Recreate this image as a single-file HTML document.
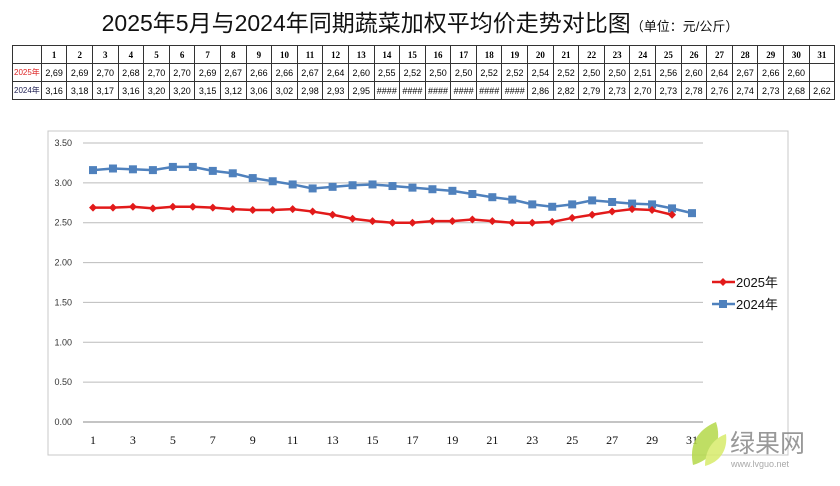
<!DOCTYPE html>
<html><head><meta charset="utf-8"><style>
body{margin:0;width:840px;height:486px;background:#fff;overflow:hidden;position:relative;font-family:"Liberation Sans","Noto Sans CJK SC",sans-serif}
#title{position:absolute;left:0;top:4px;width:840px;text-align:center;font-size:23px;color:#111}
#title span{font-size:13px}
table{position:absolute;left:12px;top:45px;border-collapse:collapse;font-size:9px;table-layout:fixed}
td{border:1px solid #333;height:17px;padding:0 1px;text-align:center;white-space:nowrap;overflow:hidden}
tr.h td{font-weight:bold;font-family:"Liberation Serif",serif}
</style></head><body>
<div id="title">2025年5月与2024年同期蔬菜加权平均价走势对比图<span>（单位：元/公斤）</span></div>
<table id="tbl"></table>
<svg id="chart" width="840" height="486" style="position:absolute;left:0;top:0"></svg>
<script>
const days=[];for(let i=1;i<=31;i++)days.push(i);
const s2025=[2.69,2.69,2.70,2.68,2.70,2.70,2.69,2.67,2.66,2.66,2.67,2.64,2.60,2.55,2.52,2.50,2.50,2.52,2.52,2.54,2.52,2.50,2.50,2.51,2.56,2.60,2.64,2.67,2.66,2.60];
const s2024=[3.16,3.18,3.17,3.16,3.20,3.20,3.15,3.12,3.06,3.02,2.98,2.93,2.95,2.97,2.98,2.96,2.94,2.92,2.90,2.86,2.82,2.79,2.73,2.70,2.73,2.78,2.76,2.74,2.73,2.68,2.62];
const t2025=["2,69","2,69","2,70","2,68","2,70","2,70","2,69","2,67","2,66","2,66","2,67","2,64","2,60","2,55","2,52","2,50","2,50","2,52","2,52","2,54","2,52","2,50","2,50","2,51","2,56","2,60","2,64","2,67","2,66","2,60",""];
const t2024=["3,16","3,18","3,17","3,16","3,20","3,20","3,15","3,12","3,06","3,02","2,98","2,93","2,95","####","####","####","####","####","####","2,86","2,82","2,79","2,73","2,70","2,73","2,78","2,76","2,74","2,73","2,68","2,62"];
const yTicks=[0,0.5,1,1.5,2,2.5,3,3.5];
const xTicks=[1,3,5,7,9,11,13,15,17,19,21,23,25,27,29,31];
const tb=document.getElementById('tbl');
let h='<colgroup><col style="width:27px">'+days.map(()=>'<col style="width:25.6px">').join('')+'</colgroup>';
h+='<tr class="h"><td></td>'+days.map(d=>'<td>'+d+'</td>').join('')+'</tr>';
h+='<tr><td style="color:#d22;font-size:8px">2025年</td>'+t2025.map(v=>'<td>'+v+'</td>').join('')+'</tr>';
h+='<tr><td style="color:#225;font-size:8px">2024年</td>'+t2024.map(v=>'<td>'+v+'</td>').join('')+'</tr>';
tb.innerHTML=h;
const svg=document.getElementById('chart');const NS='http://www.w3.org/2000/svg';
function mk(t,a,p){const e=document.createElementNS(NS,t);for(const k in a)e.setAttribute(k,a[k]);(p||svg).appendChild(e);return e;}
const X=d=>93+(d-1)*(692-93)/30, Y=v=>422-v*(422-143)/3.5;
const fr=mk('rect',{x:48,y:131,width:740,height:324,fill:'none',stroke:'#c8c8c8'});

yTicks.forEach(v=>{const l=mk('line',{x1:83,x2:703,y1:Y(v),y2:Y(v),stroke:v==0?'#888':'#bbb'});

const t=mk('text',{x:72,y:Y(v)+3,'font-size':9,'text-anchor':'end',fill:'#333'});t.textContent=v.toFixed(2);
});
xTicks.forEach(d=>{const t=mk('text',{x:X(d),y:444,'font-size':12,'text-anchor':'middle',fill:'#111','font-family':'Liberation Serif'});t.textContent=d;
});
function series(vals,col,name,marker){
const p=mk('polyline',{points:vals.map((v,i)=>X(i+1)+','+Y(v)).join(' '),fill:'none',stroke:col,'stroke-width':2.5});

vals.forEach((v,i)=>{let m;if(marker=='sq')m=mk('rect',{x:X(i+1)-4,y:Y(v)-4,width:8,height:8,fill:col});
else m=mk('polygon',{points:`${X(i+1)},${Y(v)-4} ${X(i+1)+4},${Y(v)} ${X(i+1)},${Y(v)+4} ${X(i+1)-4},${Y(v)}`,fill:col});
});}
series(s2024,'#4f81bd','series-2024','sq');
series(s2025,'#e21a1a','series-2025','dia');
const l1=mk('g',{});
mk('line',{x1:712,x2:735,y1:282,y2:282,stroke:'#e21a1a','stroke-width':2.5},l1);
mk('polygon',{points:'723,278 727,282 723,286 719,282',fill:'#e21a1a'},l1);
mk('text',{x:736,y:287,'font-size':13,fill:'#111'},l1).textContent='2025年';
const l2=mk('g',{});
mk('line',{x1:712,x2:735,y1:304,y2:304,stroke:'#4f81bd','stroke-width':2.5},l2);
mk('rect',{x:719,y:300,width:8,height:8,fill:'#4f81bd'},l2);
mk('text',{x:736,y:309,'font-size':13,fill:'#111'},l2).textContent='2024年';
const wm=mk('g',{opacity:0.85});
mk('path',{d:'M693 465 C688 440 702 428 716 422 C722 440 716 458 693 465 Z',fill:'#b5d94a'},wm);
mk('path',{d:'M705 466 C705 448 715 438 726 434 C728 450 720 462 705 466 Z',fill:'#d8ec6a'},wm);
mk('text',{x:730,y:452,'font-size':25,fill:'#888'},wm).textContent='绿果网';
mk('text',{x:731,y:467,'font-size':9,fill:'#999'},wm).textContent='www.lvguo.net';
</script>
</body></html>
